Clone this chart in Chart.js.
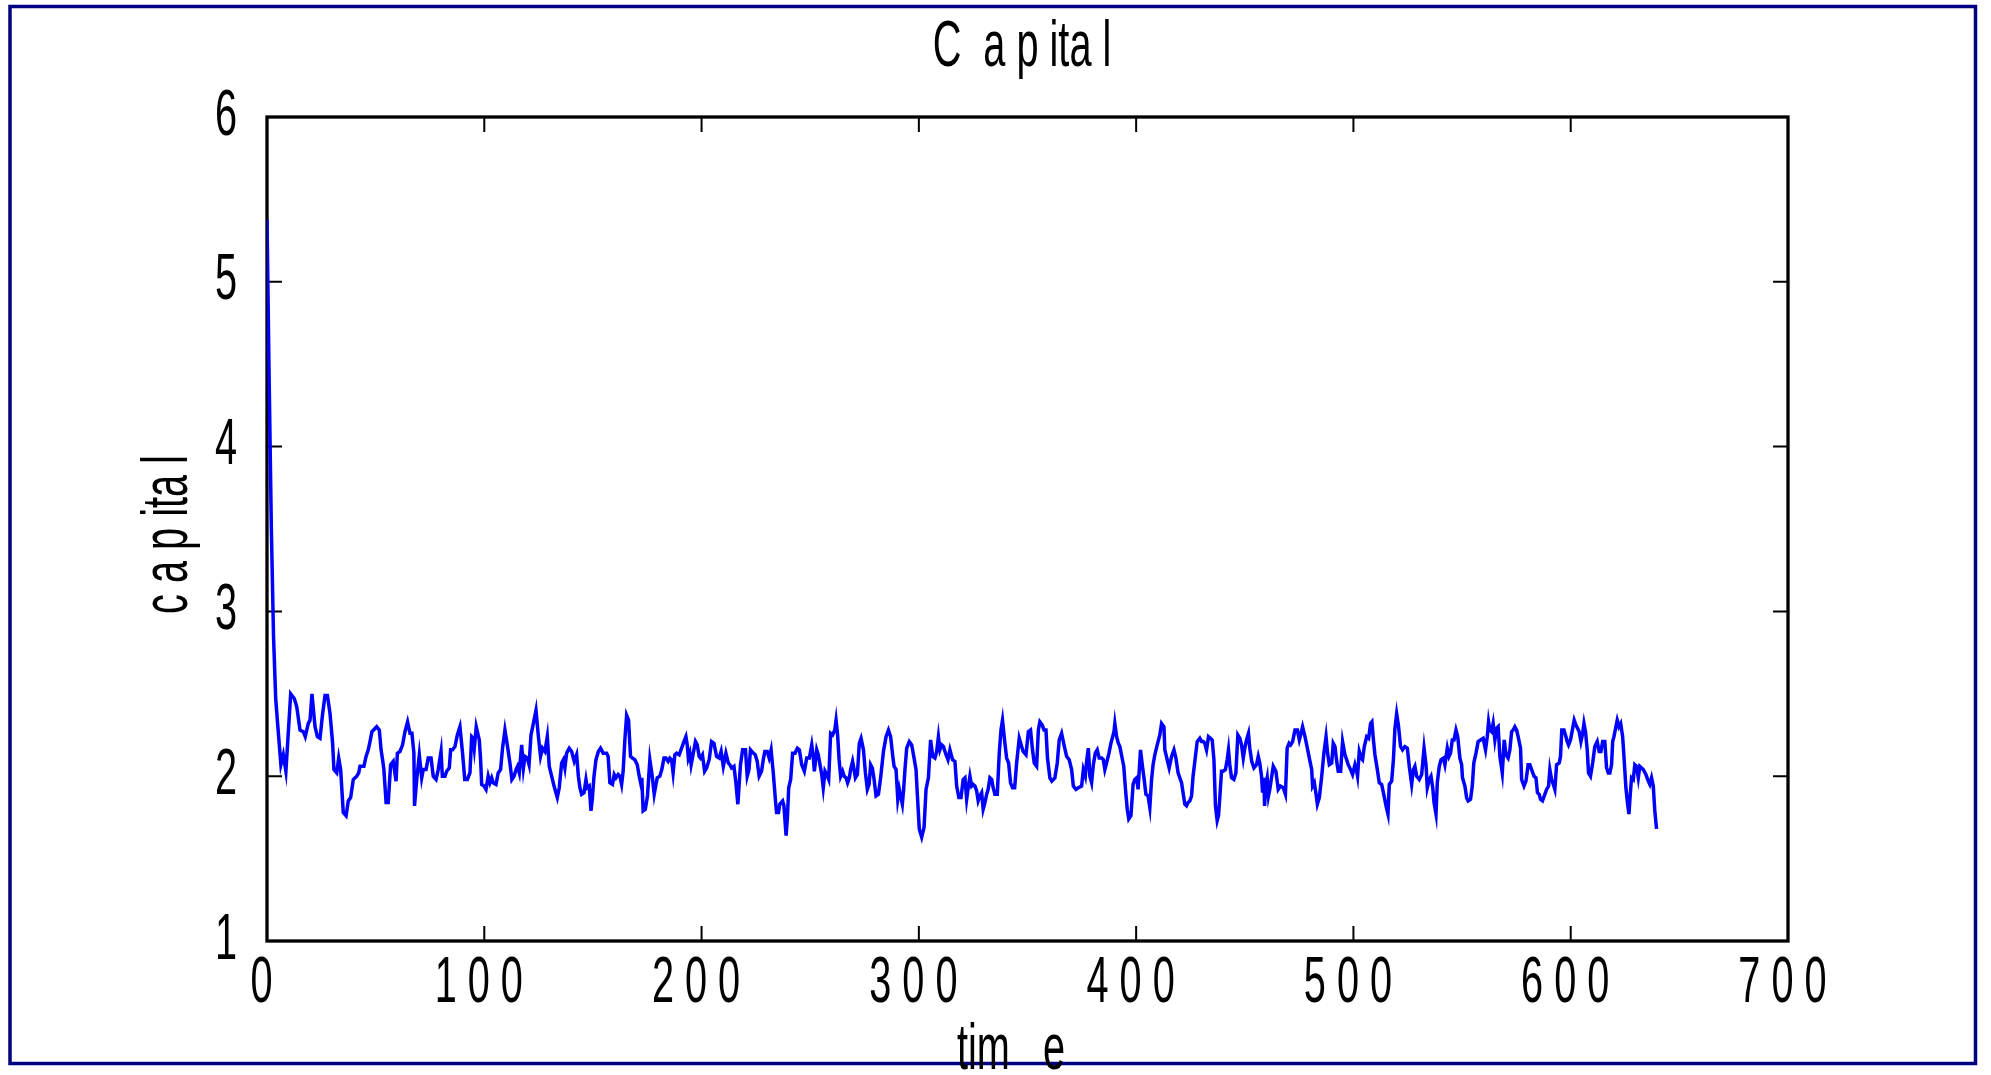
<!DOCTYPE html>
<html lang="en">
<head>
<meta charset="UTF-8">
<title>Capital</title>
<script src="https://cdn.jsdelivr.net/npm/chart.js"></script>
<style>
    body, html {
        margin: 0;
        padding: 0;
        width: 100%;
        height: 100%;
        overflow: hidden;
        background: #fff;
    }
    #wrap {
        position: relative;
        width: 100%;
        height: 100%;
    }
</style>
</head>
<body>
<div id="wrap"><canvas id="capitalChart"></canvas></div>
<script>
    // values (time step, capital)
    const time = [
        0, 1, 2, 3, 4, 5, 6.4, 7.5, 8.7, 10.9,
        12.6, 13.7, 15.2, 16.7, 17.6, 19, 19.8, 20.7, 22.1, 23.2,
        24.4, 25.6, 26.7, 27.8, 29, 30.2, 30.8, 32.1, 33, 33.9,
        35.1, 36.4, 37.4, 38.5, 39.7, 41.3, 42.2, 42.8, 44.6, 45.6,
        46.6, 47.4, 48.3, 50.5, 51.7, 52.5, 53.2, 53.8, 54.8, 55.8,
        56.9, 58.1, 59.4, 60, 61.2, 62.4, 63.5, 64.7, 65.8, 66.7,
        67.6, 67.9, 68.9, 70.1, 71.2, 71.9, 73.2, 74.2, 75.5, 76.5,
        77.8, 78.8, 80.1, 80.7, 81.9, 82.7, 83.9, 84.5, 85.4, 86.5,
        87.6, 88.8, 90, 91, 92.2, 93.4, 94.2, 94.9, 95.4, 96.3,
        97.7, 98.3, 98.8, 99.9, 100.8, 101.8, 102.6, 103.4, 104.1, 105.4,
        106.4, 107.5, 108.4, 109.5, 110.7, 111.8, 112.7, 113.7, 114.6, 115.3,
        116.1, 117.2, 118, 118.7, 119.8, 120.6, 121.5, 122.6, 123.8, 124.9,
        125.9, 126.8, 127.9, 129, 129.9, 131, 132.1, 133.6, 134.5, 135.6,
        136.4, 137.1, 137.9, 139.1, 140.2, 141.4, 142.5, 143.3, 144, 144.8,
        145.9, 146.8, 147.4, 148.3, 149.1, 149.7, 150.5, 151.4, 152.5, 153.5,
        154.7, 156.3, 157, 157.8, 159, 159.8, 160.6, 161.6, 162.4, 163.2,
        163.9, 164.7, 165.5, 166.4, 167.3, 168.2, 169.3, 170.4, 171.3, 172.1,
        172.5, 173.1, 174.1, 175.1, 176.2, 177.3, 178.2, 179, 179.6, 180.8,
        181.7, 182.7, 183.6, 184.6, 185.4, 186.2, 186.9, 187.7, 188.5, 189.7,
        190.8, 191.9, 192.8, 193.4, 193.9, 194.6, 195.2, 196.2, 197.2, 198,
        198.9, 199.5, 200.4, 201.4, 202.3, 203.5, 204.6, 205.7, 206.9, 208.1,
        209, 210, 211.2, 212.3, 213, 213.8, 214.9, 215.8, 216.7, 217.3,
        217.9, 218.9, 220.2, 221, 221.8, 222.5, 223.8, 224.7, 225.6, 226.5,
        227.6, 228.4, 229.1, 230.2, 231.1, 232, 233, 233.9, 234.5, 235.4,
        236, 237.3, 237.9, 238.9, 239.5, 240.1, 241, 241.9, 243, 244.1,
        245, 246.1, 247.3, 248.4, 249.6, 250.7, 251.4, 251.9, 253, 253.7,
        254.5, 255.3, 256, 256.8, 257.6, 258.5, 259.4, 260.3, 261.3, 261.9,
        262.6, 263.3, 264, 264.9, 265.6, 266.5, 267.2, 268, 268.6, 269.5,
        270.2, 270.8, 271.7, 272.6, 273.4, 274.5, 275.4, 276.3, 277.1, 277.8,
        278.6, 279.4, 280.3, 281.4, 282.4, 283.7, 284.9, 286, 287, 288,
        288.6, 289.5, 290.3, 291, 291.6, 292.4, 293, 293.6, 294.4, 295.6,
        296.7, 297.8, 298.7, 299.3, 300.2, 301.3, 302.4, 303.3, 304.4, 305.4,
        306.4, 307.4, 308.2, 309, 309.7, 310.5, 311.3, 312.5, 313.4, 314.3,
        315.5, 316.6, 317.4, 318.4, 319.4, 320.4, 321.2, 322, 322.7, 323.5,
        324.3, 325, 325.8, 326.6, 327.3, 328.1, 328.9, 329.6, 330.4, 331.2,
        331.9, 332.7, 333.5, 334.2, 335, 336.1, 337, 337.8, 338.5, 339.6,
        340.4, 341.3, 342.2, 343.1, 344.1, 345, 346.2, 347.3, 348, 349.3,
        350.4, 351.4, 352.3, 353.1, 354.2, 355, 355.7, 356.8, 357.6, 358.5,
        359.2, 360.3, 361.2, 362.6, 363.7, 364.6, 365.7, 366.8, 368, 369.2,
        370.3, 371.1, 372.3, 373.4, 374.9, 375.7, 376.6, 377.2, 378, 378.7,
        379.5, 380.3, 381.2, 382.1, 383, 384.1, 384.9, 385.6, 386.4, 387.5,
        388.4, 389.2, 389.8, 390.2, 391, 391.8, 392.5, 393.7, 394.3, 395.1,
        395.9, 396.6, 397.6, 398.6, 399.4, 400.2, 400.9, 402, 402.9, 403.7,
        404.5, 405.5, 406.3, 407.1, 407.8, 408.6, 409.7, 410.9, 411.7, 412.8,
        413.2, 414.3, 415.2, 416.3, 417.4, 418.3, 419.3, 420.1, 420.9, 421.6,
        422.4, 423.2, 423.9, 424.7, 425.5, 426.2, 427.2, 428.1, 429.3, 430.1,
        430.9, 431.6, 432.4, 433.3, 434.2, 435, 435.8, 436.5, 437.3, 437.9,
        438.5, 439.3, 440.1, 441.1, 441.9, 442.5, 443.1, 443.9, 445, 445.9,
        446.8, 447.7, 448.5, 449.3, 450, 450.8, 451.7, 452.3, 453.2, 454.2,
        455.4, 456.2, 456.9, 457.7, 458.2, 458.8, 459.1, 459.7, 460.3, 460.9,
        461.5, 462.3, 463.1, 464.3, 465.4, 466.4, 467.7, 468.7, 469.5, 470.4,
        471.1, 472, 473.1, 474.2, 475.1, 475.7, 476.6, 477.7, 478.8, 479.7,
        480.8, 481.2, 482, 482.8, 483.4, 484.3, 485.4, 486.4, 487.4, 488.1,
        488.9, 490, 490.7, 491.5, 492.3, 493, 494.1, 495, 496.1, 496.9,
        497.6, 498.7, 499.6, 500.7, 501.5, 501.9, 502.7, 503.6, 504.2, 505,
        506.1, 507, 507.9, 508.5, 509.2, 509.9, 511, 511.9, 513, 514.1,
        515, 515.9, 516.5, 517.6, 518.4, 519.1, 519.9, 520.7, 521.7, 522.6,
        523.7, 524.8, 525.7, 526.8, 527.6, 528.3, 529.1, 530.3, 531.4, 532.5,
        533.4, 534, 534.9, 535.7, 536.5, 537.1, 538, 538.6, 539.5, 540.3,
        541.4, 542.1, 543.2, 544, 544.7, 545.5, 546.3, 547.2, 548, 549,
        549.8, 550.2, 551.3, 552.1, 552.8, 553.9, 554.7, 555.4, 556.4, 557.4,
        558.5, 559.7, 560.8, 561.6, 562.2, 562.8, 563.6, 564.3, 565.1, 565.9,
        566.6, 567.4, 568.5, 569.4, 570.2, 571.2, 572, 572.8, 573.5, 574.3,
        575.1, 575.8, 576.9, 577.4, 578.5, 579.4, 580.4, 581.2, 582, 583.1,
        584, 584.7, 585.5, 586.1, 587, 588.1, 588.9, 589.8, 590.4, 591.2,
        592, 592.7, 593.5, 594.7, 595.3, 595.9, 596.9, 597.8, 598.4, 599,
        599.9, 600.9, 601.6, 602.4, 603.2, 603.9, 604.7, 605.5, 606.1, 606.8,
        607.6, 608.2, 609.1, 610.1, 611.1, 612.2, 613.1, 613.9, 614.7, 615.7,
        616.5, 617.3, 618, 618.8, 619.3, 619.9, 620.8, 621.4, 622.2, 623,
        623.9, 624.5, 625.4, 626.2, 626.8, 627.4, 628, 628.8, 629.5, 630.3,
        631.1, 631.8, 632.6, 633.4, 634.6, 635.7, 636.4, 637.2, 638, 638.7, 639.5
    ];
    const capital = [
        5.38, 4.4, 3.5, 2.85, 2.47, 2.3, 2.07, 2.13, 2.03, 2.5,
        2.47, 2.42, 2.28, 2.27, 2.24, 2.32, 2.34, 2.5, 2.3, 2.24,
        2.23, 2.38, 2.49, 2.49, 2.38, 2.2, 2.04, 2.02, 2.11, 2.04,
        1.78, 1.76, 1.85, 1.87, 1.98, 2, 2.02, 2.06, 2.06, 2.12,
        2.16, 2.21, 2.27, 2.3, 2.28, 2.16, 2.1, 2.04, 1.84, 1.84,
        2.07, 2.09, 1.97, 2.14, 2.15, 2.19, 2.27, 2.33, 2.26, 2.26,
        2.14, 1.82, 1.98, 2.13, 1.99, 2.04, 2.04, 2.11, 2.11, 2,
        1.98, 2.04, 2.15, 2, 2, 2.03, 2.05, 2.16, 2.16, 2.18,
        2.25, 2.3, 2.14, 1.98, 1.98, 2.02, 2.24, 2.23, 2.17, 2.3,
        2.22, 2.1, 1.95, 1.94, 1.92, 2, 1.96, 1.99, 1.96, 1.95,
        2.02, 2.04, 2.17, 2.28, 2.18, 2.08, 1.98, 2, 2.04, 2.06,
        2.02, 2.19, 2.05, 2.12, 2.11, 2.07, 2.25, 2.32, 2.4, 2.24,
        2.12, 2.17, 2.15, 2.24, 2.06, 2, 1.94, 1.87, 1.93, 2.08,
        2.1, 2.05, 2.14, 2.17, 2.15, 2.09, 2.13, 2, 1.93, 1.89,
        1.9, 1.98, 1.93, 1.94, 1.79, 1.86, 2, 2.1, 2.15, 2.17,
        2.14, 2.14, 2.12, 1.96, 1.95, 2.01, 1.99, 2.01, 2, 1.95,
        2.03, 2.22, 2.37, 2.34, 2.12, 2.11, 2.1, 2.07, 2, 1.95,
        1.99, 1.79, 1.8, 1.88, 2.1, 2, 1.89, 1.95, 1.99, 2,
        2.04, 2.11, 2.11, 2.09, 2.11, 2.1, 2.02, 2.13, 2.14, 2.13,
        2.17, 2.21, 2.24, 2.19, 2.11, 2.14, 2.07, 2.14, 2.21, 2.19,
        2.12, 2.11, 2.13, 2.03, 2.05, 2.1, 2.21, 2.2, 2.12, 2.11,
        2.15, 2.06, 2.14, 2.08, 2.07, 2.05, 2.06, 1.96, 1.83, 1.95,
        2.07, 2.16, 2.16, 2, 2.04, 2.16, 2.14, 2.13, 2.09, 2,
        2.03, 2.1, 2.15, 2.15, 2.11, 2.16, 2.02, 1.87, 1.78, 1.78,
        1.83, 1.85, 1.82, 1.64, 1.75, 1.93, 1.98, 2.14, 2.14, 2.17,
        2.16, 2.07, 2.03, 2.11, 2.11, 2.19, 2.12, 2.03, 2.16, 2.13,
        2.07, 2.01, 1.93, 2.03, 2.01, 1.98, 2.26, 2.25, 2.28, 2.34,
        2.25, 2.1, 2, 2.03, 2, 1.99, 1.96, 1.99, 2.04, 2.09,
        2.04, 1.99, 2.01, 2.2, 2.23, 2.16, 2.02, 1.92, 1.95, 2.07,
        2.05, 1.98, 1.88, 1.89, 1.99, 2.15, 2.24, 2.28, 2.24, 2.12,
        2.06, 2.04, 1.86, 1.92, 1.88, 1.83, 1.92, 2.04, 2.17, 2.21,
        2.19, 2.11, 2.04, 1.89, 1.68, 1.63, 1.69, 1.92, 1.99, 2.22,
        2.12, 2.11, 2.15, 2.24, 2.16, 2.19, 2.18, 2.13, 2.1, 2.16,
        2.1, 2.09, 1.94, 1.87, 1.87, 1.98, 1.99, 1.86, 1.93, 2,
        1.94, 1.95, 1.94, 1.91, 1.85, 1.88, 1.9, 1.8, 1.84, 1.89,
        1.92, 1.99, 1.98, 1.93, 1.89, 1.89, 2.14, 2.28, 2.34, 2.2,
        2.11, 2.08, 1.96, 1.93, 1.93, 2.08, 2.23, 2.18, 2.15, 2.13,
        2.27, 2.28, 2.16, 2.08, 2.06, 2.28, 2.33, 2.31, 2.28, 2.28,
        2.11, 1.99, 1.97, 1.99, 2.08, 2.22, 2.26, 2.19, 2.12, 2.1,
        2.04, 1.94, 1.92, 1.93, 1.94, 2.04, 2, 2.09, 2.17, 2,
        1.96, 2.07, 2.14, 2.16, 2.11, 2.11, 2.1, 2.04, 2.08, 2.14,
        2.2, 2.24, 2.27, 2.32, 2.24, 2.2, 2.18, 2.1, 2.06, 1.92,
        1.8, 1.74, 1.76, 1.95, 1.98, 1.99, 1.92, 2.16, 2.06, 1.98,
        1.89, 1.88, 1.81, 1.98, 2.07, 2.13, 2.19, 2.25, 2.32, 2.3,
        2.16, 2.1, 2.05, 2.12, 2.16, 2.11, 2.02, 1.99, 1.96, 1.9,
        1.83, 1.82, 1.84, 1.85, 1.88, 2, 2.11, 2.21, 2.23, 2.21,
        2.21, 2.2, 2.16, 2.24, 2.23, 2.22, 2.1, 1.82, 1.73, 1.76,
        1.87, 2.03, 2.03, 2.04, 2.1, 2.16, 2.07, 1.99, 1.98, 2.02,
        2.25, 2.23, 2.19, 2.11, 2.17, 2.22, 2.26, 2.17, 2.09, 2.05,
        2.07, 2.12, 2.08, 2, 1.9, 1.99, 1.82, 1.95, 1.99, 1.88,
        1.92, 1.99, 2.06, 2.03, 1.92, 1.94, 1.93, 1.89, 2.17, 2.2,
        2.19, 2.21, 2.28, 2.28, 2.22, 2.25, 2.3, 2.24, 2.17, 2.11,
        2.04, 1.94, 1.96, 1.89, 1.83, 1.87, 2, 2.14, 2.24, 2.14,
        2.07, 2.08, 2.2, 2.18, 2.09, 2.03, 2.03, 2.21, 2.13, 2.1,
        2.07, 2.04, 2.01, 2.07, 2.03, 2, 2.15, 2.11, 2.1, 2.18,
        2.24, 2.23, 2.32, 2.33, 2.22, 2.13, 2.04, 1.96, 1.95, 1.88,
        1.82, 1.77, 1.95, 1.97, 2.1, 2.29, 2.38, 2.31, 2.18, 2.16,
        2.18, 2.17, 2.06, 1.95, 2.04, 2.06, 2, 1.98, 2.01, 2.17,
        2.07, 1.93, 1.98, 2, 1.93, 1.84, 1.77, 1.96, 2.06, 2.1,
        2.11, 2.07, 2.17, 2.12, 2.14, 2.22, 2.22, 2.28, 2.24, 2.11,
        2.07, 1.99, 1.94, 1.87, 1.85, 1.86, 1.94, 2.08, 2.14, 2.21,
        2.22, 2.23, 2.16, 2.24, 2.33, 2.28, 2.27, 2.32, 2.22, 2.29,
        2.3, 2.12, 2.02, 2.22, 2.13, 2.11, 2.16, 2.27, 2.28, 2.3,
        2.28, 2.24, 2.17, 1.98, 1.94, 1.97, 2.07, 2.07, 2.04, 2,
        1.99, 1.9, 1.89, 1.86, 1.85, 1.89, 1.92, 1.94, 2.04, 1.98,
        1.95, 1.92, 2.07, 2.08, 2.12, 2.28, 2.28, 2.24, 2.21, 2.19,
        2.22, 2.29, 2.34, 2.31, 2.29, 2.27, 2.21, 2.26, 2.32, 2.27,
        2.16, 2.02, 2, 2.08, 2.18, 2.21, 2.15, 2.15, 2.21, 2.21,
        2.05, 2.02, 2.02, 2.07, 2.21, 2.24, 2.3, 2.34, 2.3, 2.32,
        2.24, 2.12, 1.93, 1.83, 1.77, 1.89, 1.99, 1.98, 2.07, 2.06,
        1.99, 2.06, 2.05, 2.04, 2.01, 1.97, 1.95, 1.99, 1.94, 1.79, 1.68
    ];
    const xTicks = [0, 100, 200, 300, 400, 500, 600, 700];
    const yTicks = [1, 2, 3, 4, 5, 6];

    const canvas = document.getElementById('capitalChart');
    const ctx = canvas.getContext('2d');

    // the old plot uses tall, squeezed glyphs: compress text horizontally
    const NARROW = 0.62;
    const plainFillText = ctx.fillText.bind(ctx);
    ctx.fillText = function (text, x, y) {
        this.save();
        this.translate(x, y);
        this.scale(NARROW, 1);
        plainFillText(text, 0, 0);
        this.restore();
    };

    const textFont = { family: "'Liberation Sans', Arial, sans-serif", size: 64, weight: 'normal' };

    // white page, navy outer border, black box with inward ticks
    const framePlugin = {
        id: 'frame',
        beforeDraw(chart) {
            const c = chart.ctx;
            c.save();
            c.fillStyle = '#fff';
            c.fillRect(0, 0, chart.width, chart.height);
            c.strokeStyle = '#000080';
            c.lineWidth = 3.5;
            c.strokeRect(10, 6.5, 1965.5, 1057);
            c.restore();
        },
        beforeDatasetsDraw(chart) {
            const { ctx: c, chartArea: a, scales: { x, y } } = chart;
            const len = 15;
            c.save();
            c.strokeStyle = '#000';
            c.lineWidth = 3.3;
            c.strokeRect(a.left, a.top, a.width, a.height);
            c.lineWidth = 2;
            c.beginPath();
            xTicks.forEach(v => {
                const px = x.getPixelForValue(v);
                c.moveTo(px, a.top); c.lineTo(px, a.top + len);
                c.moveTo(px, a.bottom); c.lineTo(px, a.bottom - len);
            });
            yTicks.forEach(v => {
                const py = y.getPixelForValue(v);
                c.moveTo(a.left, py); c.lineTo(a.left + len, py);
                c.moveTo(a.right, py); c.lineTo(a.right - len, py);
            });
            c.stroke();
            c.restore();
        }
    };

    new Chart(ctx, {
        type: 'line',
        data: {
            datasets: [{
                label: 'capital',
                data: time.map((t, i) => ({ x: t, y: capital[i] })),
                borderColor: '#0000ff',
                borderWidth: 3.5,
                pointRadius: 0,
                fill: false,
                tension: 0
            }]
        },
        options: {
            responsive: true,
            maintainAspectRatio: false,
            animation: false,
            layout: { padding: { left: 64, right: 0, top: 0, bottom: 0 } },
            plugins: {
                legend: { display: false },
                tooltip: { enabled: false },
                title: {
                    display: true,
                    text: 'C  a p ita l ',
                    color: '#000',
                    font: textFont,
                    padding: { top: 9.6, bottom: 30.6 }
                }
            },
            scales: {
                x: {
                    type: 'linear',
                    min: 0,
                    max: 700,
                    afterBuildTicks: s => { s.ticks = xTicks.map(v => ({ value: v })); },
                    afterFit: s => { s.height = 134; },
                    grid: { display: false, drawTicks: false, tickLength: 0 },
                    border: { display: false },
                    ticks: {
                        color: '#000',
                        font: textFont,
                        padding: 5,
                        maxRotation: 0,
                        autoSkip: false,
                        callback: v => String(v).split('').join(' ') + ' '
                    },
                    title: {
                        display: true,
                        text: 'tim   e   ',
                        color: '#000',
                        font: { ...textFont, lineHeight: 0.75 },
                        padding: 0
                    }
                },
                y: {
                    min: 1,
                    max: 6,
                    afterBuildTicks: s => { s.ticks = yTicks.map(v => ({ value: v })); },
                    afterFit: s => { s.width = 203; },
                    grid: { display: false, drawTicks: false, tickLength: 0 },
                    border: { display: false },
                    ticks: { color: '#000', font: textFont, padding: 30 },
                    title: {
                        display: true,
                        text: 'c a p ita l ',
                        color: '#000',
                        font: textFont,
                        padding: { top: 67, bottom: 0 }
                    }
                },
                y2: {
                    type: 'linear',
                    position: 'right',
                    display: true,
                    afterFit: s => { s.width = 203; },
                    grid: { display: false, drawTicks: false },
                    border: { display: false },
                    ticks: { display: false }
                }
            }
        },
        plugins: [framePlugin]
    });
</script>
</body>
</html>
